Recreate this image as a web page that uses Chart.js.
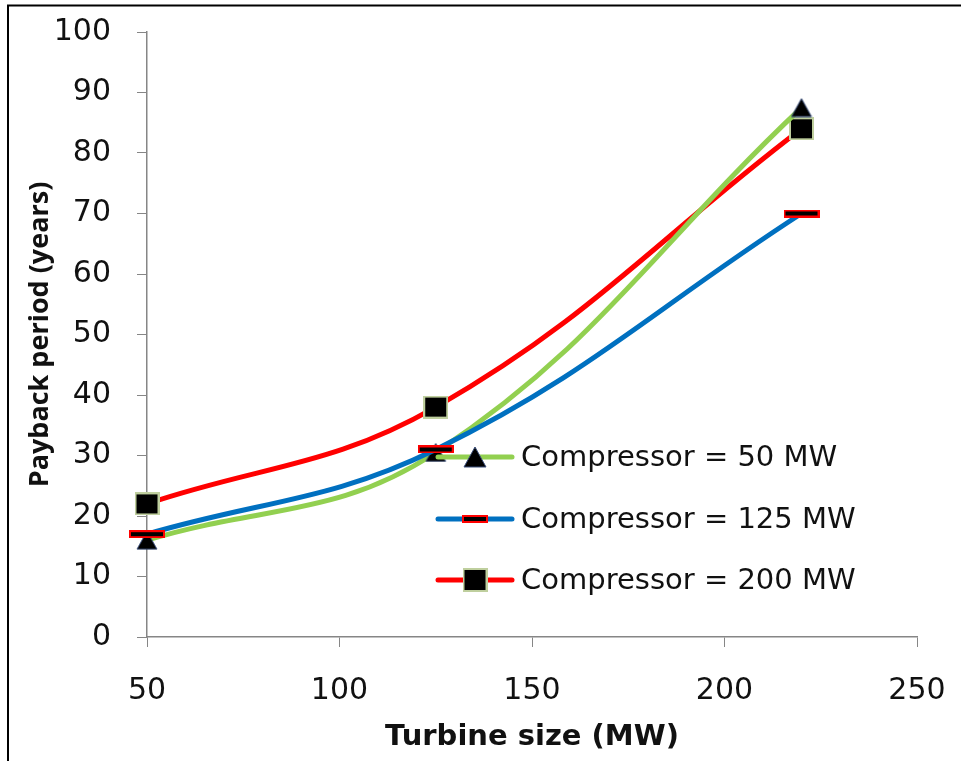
<!DOCTYPE html>
<html>
<head>
<meta charset="utf-8">
<script src="https://cdn.jsdelivr.net/npm/chart.js@4.4.1/dist/chart.umd.min.js"></script>
<style>
  html, body { margin: 0; padding: 0; background: #fff; }
  #wrap { width: 961px; height: 761px; position: relative; }
</style>
</head>
<body>
<div id="wrap"><canvas id="chart" width="961" height="761"></canvas></div>
<script>
// Turbine sizes (MW) and payback periods (years) per compressor size
const turbineSizes = [50, 125, 220];
const payback50 = [16, 30.5, 87.5];
const payback125 = [17, 31, 70];
const payback200 = [22, 38, 84];
const seriesLabels = ['Compressor = 50 MW', 'Compressor = 125 MW', 'Compressor = 200 MW'];
const yTicks = [0, 10, 20, 30, 40, 50, 60, 70, 80, 90, 100];
const xTicks = [50, 100, 150, 200, 250];

const WIDE = '"DejaVu Sans", "Liberation Sans", sans-serif';
const NARROW = '"Open Sans", "Liberation Sans", sans-serif';

// Marker images
function makeTriangle(w, h) {
  const c = document.createElement('canvas');
  c.width = w + 2; c.height = h + 2;
  const g = c.getContext('2d');
  g.beginPath();
  g.moveTo((w + 2) / 2, 1);
  g.lineTo(w + 1, h + 1);
  g.lineTo(1, h + 1);
  g.closePath();
  g.fillStyle = '#000';
  g.fill();
  g.lineWidth = 1;
  g.strokeStyle = '#3A4E7A';
  g.stroke();
  return c;
}
function makeDash(w, h) {
  const c = document.createElement('canvas');
  c.width = w; c.height = h;
  const g = c.getContext('2d');
  g.fillStyle = '#FF0000';
  g.fillRect(0, 0, w, h);
  g.fillStyle = '#000';
  g.fillRect(2, 2, w - 4, h - 4);
  return c;
}
function makeSquare(w, h) {
  const c = document.createElement('canvas');
  c.width = w; c.height = h;
  const g = c.getContext('2d');
  g.fillStyle = '#BFCF9E';
  g.fillRect(0, 0, w, h);
  g.fillStyle = '#000';
  g.fillRect(2, 2, w - 4, h - 4);
  return c;
}

const markers = [makeTriangle(20, 18), makeDash(36, 8), makeSquare(25, 23)];
const legendMarkers = [makeTriangle(22, 20), makeDash(26, 8), makeSquare(25, 24)];
const colors = ['#92D050', '#0070C0', '#FF0000'];
const values = [payback50, payback125, payback200];

function toPoints(vals) {
  return turbineSizes.map((x, i) => ({ x: x, y: vals[i] }));
}

const datasets = values.map((vals, i) => ({
  label: seriesLabels[i],
  data: toPoints(vals),
  borderColor: colors[i],
  backgroundColor: colors[i],
  borderWidth: 5,
  tension: 0.4,
  pointStyle: markers[i],
  pointRadius: 10,
  clip: false
}));
const ordered = [datasets[1], datasets[0], datasets[2]];

// Frame lines along the top and left of the figure
const framePlugin = {
  id: 'frame',
  beforeDraw(chart) {
    const ctx = chart.ctx;
    ctx.save();
    ctx.fillStyle = '#fff';
    ctx.fillRect(0, 0, chart.width, chart.height);
    ctx.strokeStyle = '#000';
    ctx.lineWidth = 2;
    ctx.beginPath();
    ctx.moveTo(8, 761);
    ctx.lineTo(8, 5.5);
    ctx.lineTo(961, 5.5);
    ctx.stroke();
    ctx.restore();
  }
};

// Legend placed inside the plot
const insideLegend = {
  id: 'insideLegend',
  afterDatasetsDraw(chart) {
    const ctx = chart.ctx;
    const rows = [457, 519, 580];
    ctx.save();
    for (let i = 0; i < 3; i++) {
      const y = rows[i];
      ctx.strokeStyle = colors[i];
      ctx.lineWidth = 5;
      ctx.lineCap = 'round';
      ctx.beginPath();
      ctx.moveTo(438, y);
      ctx.lineTo(512, y);
      ctx.stroke();
      const m = legendMarkers[i];
      ctx.drawImage(m, 475 - m.width / 2, y - m.height / 2);
      ctx.fillStyle = '#111';
      ctx.font = '29px ' + WIDE;
      ctx.textBaseline = 'middle';
      ctx.textAlign = 'left';
      ctx.fillText(seriesLabels[i], 521, y + 1);
    }
    ctx.restore();
  }
};

new Chart(document.getElementById('chart'), {
  type: 'line',
  data: { datasets: ordered },
  options: {
    responsive: false,
    animation: false,
    layout: { padding: { left: 10, top: 32, right: 44, bottom: 6 } },
    plugins: { legend: { display: false }, tooltip: { enabled: false } },
    scales: {
      x: {
        type: 'linear',
        min: 50, max: 250,
        afterBuildTicks(s) { s.ticks = xTicks.map(v => ({ value: v })); },
        afterFit(s) {
          s.height = 761 - 637 - 6;
          s.paddingLeft = 0; s.paddingRight = 0;
        },
        grid: { drawOnChartArea: false, drawTicks: true, tickLength: 10, color: '#868686' },
        border: { display: true, color: '#868686', width: 1.5 },
        ticks: { color: '#111', font: { family: WIDE, size: 30 }, padding: 26 },
        title: { display: true, text: 'Turbine size (MW)', color: '#111', font: { family: WIDE, size: 29, weight: 'bold' }, padding: { top: 4, bottom: 0 } }
      },
      y: {
        min: 0, max: 100,
        afterBuildTicks(s) { s.ticks = yTicks.map(v => ({ value: v })); },
        afterFit(s) {
          s.width = 147 - 10;
          s.paddingTop = 0; s.paddingBottom = 0;
        },
        grid: { drawOnChartArea: false, drawTicks: true, tickLength: 10, color: '#868686' },
        border: { display: true, color: '#868686', width: 1.5 },
        ticks: { color: '#111', font: { family: WIDE, size: 30 }, padding: 26 },
        title: { display: true, text: 'Payback period (years)', color: '#111', font: { family: NARROW, size: 27, weight: 'bold' }, padding: { top: 14, bottom: 6 } }
      }
    }
  },
  plugins: [framePlugin, insideLegend]
});
</script>
</body>
</html>
